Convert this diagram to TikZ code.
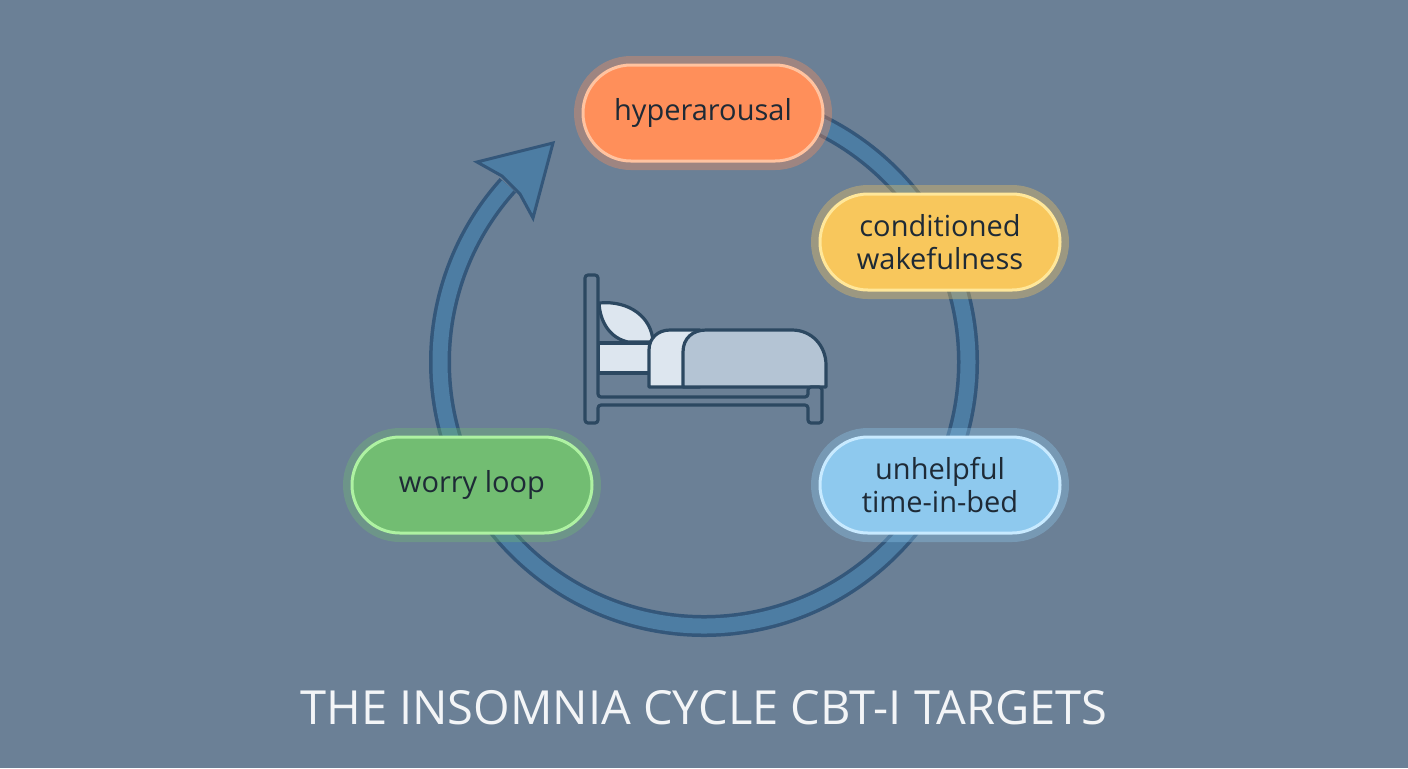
\documentclass[tikz,border=0pt]{standalone}
\usepackage{fontspec}
\setmainfont{Open Sans}
\definecolor{bgcol}{HTML}{6B8096}
\definecolor{ringcol}{HTML}{4D7DA3}
\definecolor{ringline}{HTML}{34577A}
\definecolor{bedline}{HTML}{2C4861}
\definecolor{sheetcol}{HTML}{DDE6EF}
\definecolor{blanketcol}{HTML}{B4C4D4}
\definecolor{hypercol}{HTML}{FF8F5A}
\definecolor{hyperrim}{HTML}{FFC3A0}
\definecolor{wakecol}{HTML}{F8C75C}
\definecolor{wakerim}{HTML}{FFE79A}
\definecolor{bedcol}{HTML}{8EC9EE}
\definecolor{bedrim}{HTML}{C8EAFF}
\definecolor{worrycol}{HTML}{72BD72}
\definecolor{worryrim}{HTML}{AEF2A2}
\definecolor{textcol}{HTML}{1E2A36}
\begin{document}
\begin{tikzpicture}
	[
	x = 0.5pt,
	y = -0.5pt,
	pill/.style = {rounded corners = 24pt, minimum width = 120pt, minimum height = 48pt,
		align = center, text = textcol, font = \fontsize{14.5}{16.5}\selectfont, line width = 1.5pt},
	glow/.style = {draw = #1, line width = 5pt, draw opacity = 0.35},
	bedpart/.style = {draw = bedline, line width = 1.6pt, line join = round}]

	\fill[bgcol] (0,0) rectangle (1408,768);
	\useasboundingbox (0,0) rectangle (1408,768);

	%% Drawing the cycle
	\coordinate (centre) at (704,362);
	\draw[ringline, line width = 11pt] ([shift = {(-90:264)}]centre) arc (-90:222:264);
	\draw[ringcol, line width = 7.5pt] ([shift = {(-90:264)}]centre) arc (-90:222:264);
	\coordinate (tip) at (553,143);
	\filldraw[fill = ringcol, draw = ringline, line width = 1.5pt, line join = miter]
		(tip) -- (477,162) -- (502,176) -- (520,194) -- (533,218) -- cycle;

	%% Drawing the bed
	\filldraw[bedpart, fill = sheetcol] (598,343) rectangle (660,373);
	\filldraw[bedpart, fill = sheetcol] (599,303) .. controls (630,300) and (652,318) .. (653,342)
		-- (628,342) .. controls (610,338) and (600,322) .. cycle;
	\filldraw[bedpart, fill = sheetcol] (649,387) -- (649,350) .. controls (649,338) and (658,330) .. (670,330)
		-- (700,330) -- (700,387) -- cycle;
	\filldraw[bedpart, fill = blanketcol] (683,387) -- (683,352) .. controls (683,338) and (693,330) .. (706,330)
		-- (792,330) .. controls (812,330) and (826,346) .. (826,365) -- (826,387) -- cycle;
	\filldraw[bedpart, fill = bgcol, rounded corners = 1.5pt] (585,423) -- (585,275) -- (598,275) -- (598,397)
		-- (808,397) -- (808,387) -- (822,387) -- (822,423) -- (808,423) -- (808,405) -- (598,405)
		-- (598,423) -- cycle;

	%% Drawing the stages
	\foreach \name/\pos/\fillcol/\rimcol/\txt in
		{hyper/{(703,113)}/hypercol/hyperrim/hyperarousal,
		 wake/{(940,242)}/wakecol/wakerim/{conditioned\\wakefulness},
		 inbed/{(940,485)}/bedcol/bedrim/{unhelpful\\time-in-bed},
		 worry/{(472,485)}/worrycol/worryrim/{worry loop}}
	{
		\node[pill, glow = \fillcol, minimum width = 124pt, minimum height = 52pt, rounded corners = 26pt] at \pos {};
		\node[pill, fill = \fillcol, draw = \rimcol] (\name) at \pos {\txt};
	}

	\node[text = white!92!bgcol, font = \fontsize{23.5}{28}\selectfont] (title) at (704,708)
		{THE INSOMNIA CYCLE CBT-I TARGETS};
\end{tikzpicture}
\end{document}
